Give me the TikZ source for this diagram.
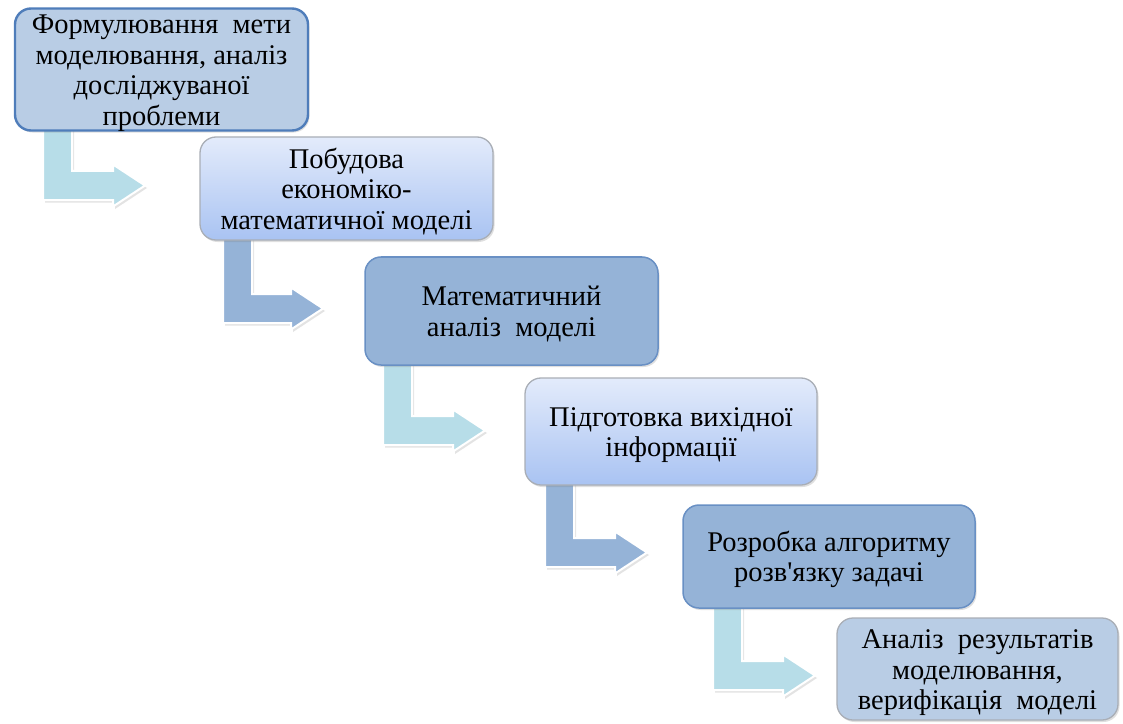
\documentclass[tikz,border=0pt]{standalone}
\usepackage{fontspec}
\setmainfont{Liberation Serif}[Ligatures=TeXOff]
\usetikzlibrary{shadows}
\pgfdeclarelayer{bg}
\pgfsetlayers{bg,main}
\definecolor{boxA}{HTML}{B9CDE5}
\definecolor{boxC}{HTML}{95B3D7}
\definecolor{gradT}{HTML}{E3EBFB}
\definecolor{gradB}{HTML}{A9C3F2}
\definecolor{borderBlue}{HTML}{4F7DBA}
\definecolor{borderGray}{HTML}{A9AEB6}
\definecolor{arrLight}{HTML}{B7DDE8}
\definecolor{arrDark}{HTML}{95B3D7}
\tikzset{
  stage/.style={rectangle, rounded corners=16bp, align=center, inner sep=0pt,
    font=\fontsize{28.5bp}{30.5bp}\selectfont, text=black,
    drop shadow={opacity=0.25, shadow xshift=1.5bp, shadow yshift=-2bp}},
  stageA/.style={stage, fill=boxA, draw=borderBlue, line width=2.4bp},
  stageB/.style={stage, top color=gradT, bottom color=gradB, draw=borderGray, line width=1.3bp},
  stageC/.style={stage, fill=boxC, draw=borderBlue!85, line width=1.5bp},
  stageD/.style={stage, fill=boxA, draw=borderGray, line width=1.3bp},
  bentarrow/.style={draw=white, line width=2bp, line join=miter,
    drop shadow={opacity=0.22, shadow xshift=2bp, shadow yshift=-2.5bp}}
}
\newcommand{\lowtext}[1]{\raisebox{-4bp}[\height][\depth]{\begin{tabular}{@{}c@{}}#1\end{tabular}}}
% #1 colour, #2 stem left x, #3 stem top y, #4 bar bottom y, #5 tip x
\newcommand{\myBent}[5]{%
  \begin{pgfonlayer}{bg}
  \path[bentarrow, fill=#1]
    (#2,#3) -- (#2+29,#3) -- (#2+29,#4-29) -- (#5-32,#4-29) -- (#5-32,#4-14.5-21)
    -- (#5,#4-14.5) -- (#5-32,#4-14.5+21) -- (#5-32,#4) -- (#2,#4) -- cycle;
  \end{pgfonlayer}}
\begin{document}
\begin{tikzpicture}[x=1bp, y=-1bp]
\useasboundingbox (0,0) rectangle (1123,724);
\node[stageA, minimum width=293bp, minimum height=119bp] (b1) at (161.5,69.5)
  {\lowtext{Формулювання \ мети\\моделювання, аналіз\\досліджуваної\\проблеми}};
\node[stageB, minimum width=293bp, minimum height=103bp] (b2) at (346.5,188.5)
  {\lowtext{Побудова\\економіко-\\математичної моделі}};
\node[stageC, minimum width=293bp, minimum height=108bp] (b3) at (511.5,311)
  {\lowtext{Математичний\\аналіз \ моделі}};
\node[stageB, minimum width=292bp, minimum height=107bp] (b4) at (671,431.5)
  {\lowtext{Підготовка вихідної\\інформації}};
\node[stageC, minimum width=292bp, minimum height=103bp] (b5) at (829,556.5)
  {\lowtext{Розробка алгоритму\\розв'язку задачі}};
\node[stageD, minimum width=281bp, minimum height=102bp] (b6) at (977.5,669)
  {\lowtext{Аналіз \ результатів\\моделювання,\\верифікація \ моделі}};
\myBent{arrLight}{43}{124}{200}{145}
\myBent{arrDark}{223}{235}{323}{323}
\myBent{arrLight}{383}{360}{445}{485}
\myBent{arrDark}{545}{480}{567}{647}
\myBent{arrLight}{713}{603}{690}{815}
\end{tikzpicture}
\end{document}
